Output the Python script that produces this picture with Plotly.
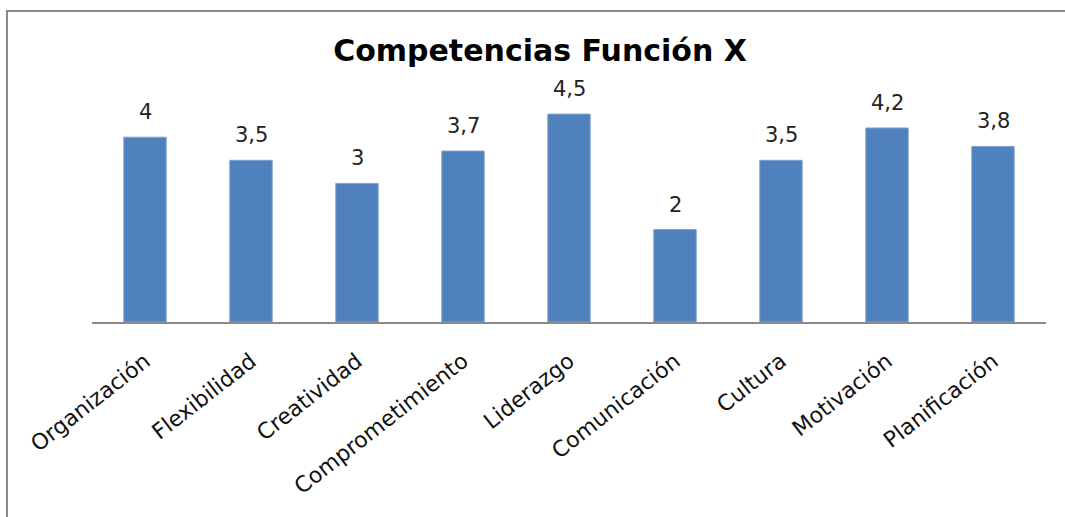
import plotly.graph_objects as go

categorias = ["Organización", "Flexibilidad", "Creatividad", "Comprometimiento",
              "Liderazgo", "Comunicación", "Cultura", "Motivación", "Planificación"]
valores = [4, 3.5, 3, 3.7, 4.5, 2, 3.5, 4.2, 3.8]

etiquetas = [f"{v:g}".replace(".", ",") for v in valores]

W, H = 1065, 517
ml, mr, mt, mb = 92, 19, 91, 195
plot_w = W - ml - mr
plot_h = H - mt - mb

fig = go.Figure(go.Bar(
    x=categorias,
    y=valores,
    marker=dict(color="#4F81BD", line=dict(color="#7FA3D0", width=1)),
    width=0.4,
    cliponaxis=False,
))

# value labels above each bar
for c, v, t in zip(categorias, valores, etiquetas):
    fig.add_annotation(x=c, y=v, text=t, showarrow=False,
                       xanchor="center", yanchor="bottom", yshift=11,
                       font=dict(family="DejaVu Sans, sans-serif", size=21, color="#222"))

# chart frame (left and top edges visible)
fig.add_shape(type="rect", xref="paper", yref="paper",
              x0=(7 - ml) / plot_w, x1=1.2,
              y0=-1.5, y1=(H - mb - 11) / plot_h,
              line=dict(color="#8a8a8a", width=2), layer="below")

fig.update_layout(
    width=W, height=H,
    margin=dict(l=ml, r=mr, t=mt, b=mb),
    paper_bgcolor="white", plot_bgcolor="white",
    showlegend=False,
    title=dict(text="<b>Competencias Función X</b>",
               font=dict(family="DejaVu Sans, sans-serif", size=30, color="#000"),
               x=540 / W, xanchor="center", xref="container",
               y=1 - 50 / H, yanchor="middle", yref="container"),
)
fig.update_xaxes(
    showline=True, linecolor="#8a8a8a", linewidth=1.5,
    ticks="outside", ticklen=16, tickcolor="rgba(0,0,0,0)", tickangle=-38,
    tickfont=dict(family="DejaVu Sans, sans-serif", size=22, color="#111"),
    showgrid=False,
)
fig.update_yaxes(range=[0, 5], visible=False, showgrid=False)

fig.write_html("out.html")
